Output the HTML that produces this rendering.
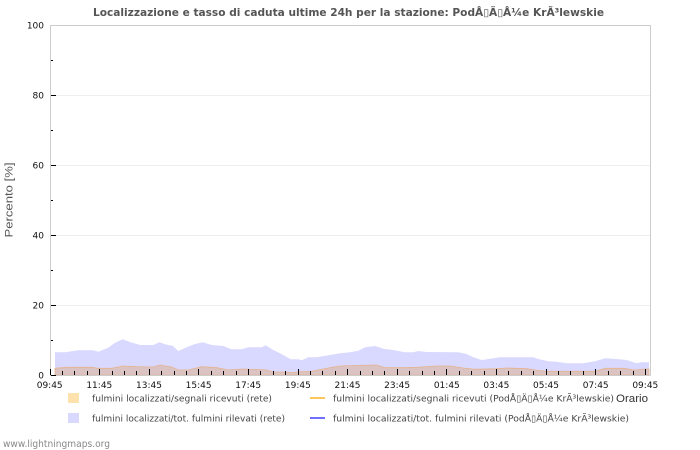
<!DOCTYPE html>
<html><head><meta charset="utf-8"><style>
html,body{margin:0;padding:0;background:#fff;}
svg{display:block;}
text{font-family:"DejaVu Sans","Liberation Sans",sans-serif;}
</style></head><body>
<svg width="700" height="450" viewBox="0 0 700 450" xmlns="http://www.w3.org/2000/svg">
<rect x="0" y="0" width="700" height="450" fill="#fff"/>
<text x="348.5" y="16" text-anchor="middle" font-size="10.5" font-weight="bold" fill="#555" textLength="511" lengthAdjust="spacingAndGlyphs">Localizzazione e tasso di caduta ultime 24h per la stazione: PodÅ▯Ä▯Å¼e KrÃ³lewskie</text>
<g stroke="#eeeeee" stroke-width="1">
<path d="M51 95.5H650M51 165.5H650M51 235.5H650M51 305.5H650"/>
</g>
<polygon fill="#d9d9ff" points="55,352.3 65,352.3 78.3,350.3 93.3,350.3 98.3,351.7 108.3,347.7 115,342.7 122.7,339.3 130,342 140,345 153.3,345 159.3,342.3 166.7,344.7 172.7,345.7 178.3,351 186.7,347.3 195,344 202.7,342.3 211.7,345 223.3,346 231.7,349.3 241.7,349.3 248.3,347.3 261.7,347.3 265.7,345.3 273.3,350 280,353.3 290.7,359.3 298.3,359.3 301.7,360.3 308.3,357.3 316.7,357.3 330,355 340,353.3 350,352.3 358.3,350.7 365,347.3 375,346 383.3,348.7 393.3,350 405,352.3 413.3,352.3 418.3,351 426.7,352 458.3,352.3 466.7,354 473.3,357.3 481.7,360 486.7,359.3 500,357.3 533.3,357.3 538.3,359 548.3,361.3 556.7,361.7 566.7,363.3 583.3,363.3 595,361.3 605,358.3 616.7,359 626.7,360 636.7,363.3 641.7,362.3 649,362.3 649,375 55,375"/>
<polygon fill="#dcc3c3" stroke="#e4b48e" stroke-width="0.8" points="55,368.3 66.7,367.3 91.7,367.3 98.3,368.3 111.7,368.3 123.3,366 136.7,366.7 153.3,367 160,365 171.7,367 178.3,370 188.3,370 201.7,366.7 216.7,367.7 228.3,370 243.3,369 266.7,370 273.3,372 283.3,372 293.3,372.7 300,371.7 310,371.7 326.7,368.3 340,366 363.3,365.3 376.7,365 385,367.7 405,367.7 416.7,367.3 436.7,366 450,366 463.3,368 475,369.3 496.7,368.7 506.7,368 526.7,368.7 535,370 545,371.3 595,371.3 605,368.3 623.3,368.3 635,370 645,369 649,369 649,375 55,375"/>
<g stroke="#cccccc" stroke-width="1" fill="none">
<path d="M50.5 25V375.5M50 25.5H650.5M650.5 25V375.5M50 375.5H650.5"/>
</g>
<g stroke="#000" stroke-width="1">
<path d="M51 95.5H56M51 165.5H56M51 235.5H56M51 305.5H56M51 375.5H56"/>
<path d="M51 60.5H53M51 130.5H53M51 200.5H53M51 270.5H53M51 340.5H53"/>
<path d="M50.5 369V375M62.5 371V375M74.5 371V375M87.5 371V375M99.5 369V375M112.5 371V375M124.5 371V375M136.5 371V375M149.5 369V375M161.5 371V375M174.5 371V375M186.5 371V375M198.5 369V375M211.5 371V375M223.5 371V375M236.5 371V375M248.5 369V375M260.5 371V375M273.5 371V375M285.5 371V375M298.5 369V375M310.5 371V375M322.5 371V375M335.5 371V375M347.5 369V375M360.5 371V375M372.5 371V375M384.5 371V375M397.5 369V375M409.5 371V375M422.5 371V375M434.5 371V375M446.5 369V375M459.5 371V375M471.5 371V375M484.5 371V375M496.5 369V375M508.5 371V375M521.5 371V375M533.5 371V375M546.5 369V375M558.5 371V375M570.5 371V375M583.5 371V375M595.5 369V375M608.5 371V375M620.5 371V375M633.5 371V375M645.5 369V375"/>
</g>
<g font-size="9" fill="#111" text-anchor="end">
<text x="44" y="28.5">100</text>
<text x="44" y="98.5">80</text>
<text x="44" y="168.5">60</text>
<text x="44" y="238.5">40</text>
<text x="44" y="308.5">20</text>
<text x="44" y="378.5">0</text>
</g>
<g font-size="9" fill="#111" text-anchor="middle">
<text x="49.7" y="388">09:45</text>
<text x="99.3" y="388">11:45</text>
<text x="149" y="388">13:45</text>
<text x="198.6" y="388">15:45</text>
<text x="248.2" y="388">17:45</text>
<text x="297.9" y="388">19:45</text>
<text x="347.5" y="388">21:45</text>
<text x="397.1" y="388">23:45</text>
<text x="446.8" y="388">01:45</text>
<text x="496.4" y="388">03:45</text>
<text x="546" y="388">05:45</text>
<text x="595.7" y="388">07:45</text>
<text x="645.3" y="388">09:45</text>
</g>
<text transform="translate(12.5,200) rotate(-90)" text-anchor="middle" font-size="11" fill="#555" style="font-family:'Liberation Sans',sans-serif" textLength="75" lengthAdjust="spacingAndGlyphs">Percento   [%]</text>
<text x="616" y="402" font-size="11" fill="#333" style="font-family:'Liberation Sans',sans-serif" textLength="32" lengthAdjust="spacingAndGlyphs">Orario</text>
<rect x="68" y="393" width="11" height="10" fill="#fde2ae"/>
<rect x="68" y="413" width="11" height="10" fill="#d9d9ff"/>
<line x1="310" y1="398" x2="325" y2="398" stroke="#ffc65e" stroke-width="2"/>
<line x1="310" y1="418" x2="325" y2="418" stroke="#7070ff" stroke-width="2"/>
<g font-size="9" fill="#444">
<text x="92" y="401.5" textLength="180" lengthAdjust="spacingAndGlyphs">fulmini localizzati/segnali ricevuti (rete)</text>
<text x="92" y="421.5" textLength="193" lengthAdjust="spacingAndGlyphs">fulmini localizzati/tot. fulmini rilevati (rete)</text>
<text x="333" y="401.5" textLength="281" lengthAdjust="spacingAndGlyphs">fulmini localizzati/segnali ricevuti (PodÅ▯Ä▯Å¼e KrÃ³lewskie)</text>
<text x="333" y="421.5" textLength="296" lengthAdjust="spacingAndGlyphs">fulmini localizzati/tot. fulmini rilevati (PodÅ▯Ä▯Å¼e KrÃ³lewskie)</text>
</g>
<text x="3" y="447" font-size="9.5" fill="#888" textLength="107" lengthAdjust="spacingAndGlyphs">www.lightningmaps.org</text>
</svg>
</body></html>
